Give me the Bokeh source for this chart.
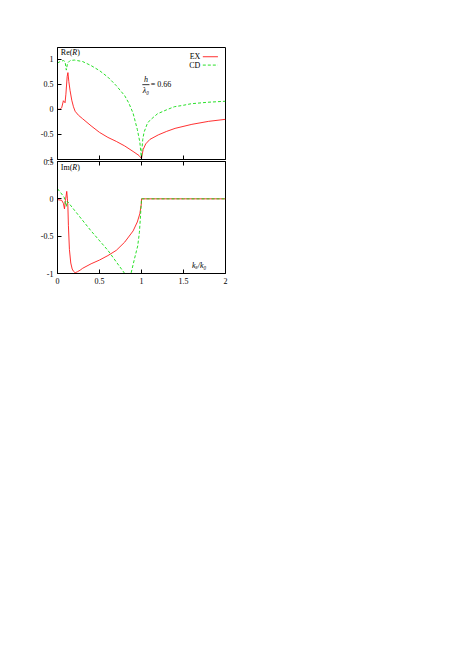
from bokeh.plotting import figure
from bokeh.layouts import column
from bokeh.models import (Range1d, FixedTicker, Label, Arrow, LinearAxis,
                          NumeralTickFormatter)
from bokeh.embed import file_html
from bokeh.resources import INLINE

# ---------------- data ----------------
x_ticks = [0, 0.5, 1, 1.5, 2]
x_tick_labels = ["0", "0.5", "1", "1.5", "2"]
re_ticks = [-1, -0.5, 0, 0.5, 1]
re_tick_labels = ["-1", "-0.5", "0", "0.5", "1"]
im_ticks = [-1, -0.5, 0, 0.5]
im_tick_labels = ["-1", "-0.5", "0", "0.5"]

ex_re_x = [0.0, 0.03, 0.05, 0.07, 0.09, 0.10, 0.115, 0.124, 0.135, 0.15, 0.17,
           0.19, 0.21, 0.25, 0.3, 0.4, 0.5, 0.6, 0.7, 0.8, 0.9, 0.97, 1.0,
           1.005, 1.02, 1.05, 1.1, 1.2, 1.3, 1.4, 1.6, 1.8, 2.0]
ex_re_y = [0.0, 0.0, 0.03, 0.17, 0.13, 0.30, 0.65, 0.73, 0.55, 0.37, 0.18,
           0.05, -0.04, -0.12, -0.19, -0.33, -0.46, -0.56, -0.64, -0.73, -0.84,
           -0.92, -0.98, -0.93, -0.80, -0.69, -0.60, -0.51, -0.44, -0.38,
           -0.30, -0.24, -0.20]

cd_re_x = [0.0, 0.03, 0.07, 0.09, 0.105, 0.12, 0.15, 0.2, 0.3, 0.4, 0.5, 0.6,
           0.7, 0.8, 0.85, 0.9, 0.95, 0.98, 1.0, 1.005, 1.015, 1.03, 1.07,
           1.1, 1.19, 1.3, 1.39, 1.5, 1.59, 1.79, 2.0]
cd_re_y = [0.92, 0.95, 0.97, 0.95, 0.78, 0.92, 0.97, 0.98, 0.95, 0.87, 0.77,
           0.64, 0.47, 0.27, 0.12, -0.08, -0.40, -0.65, -1.0, -0.80, -0.60,
           -0.46, -0.28, -0.22, -0.09, -0.01, 0.05, 0.08, 0.11, 0.14, 0.16]

ex_im_x = [0.0, 0.05, 0.07, 0.083, 0.095, 0.11, 0.118, 0.124, 0.13, 0.142,
           0.158, 0.175, 0.19, 0.21, 0.24, 0.27, 0.3, 0.4, 0.5, 0.6, 0.7,
           0.8, 0.9, 0.95, 0.98, 0.999, 1.0, 1.5, 2.0]
ex_im_y = [-0.01, -0.02, -0.06, -0.135, -0.02, 0.10, 0.0, -0.11, -0.36,
           -0.68, -0.86, -0.94, -0.97, -0.99, -0.975, -0.955, -0.93, -0.87,
           -0.82, -0.76, -0.69, -0.58, -0.43, -0.31, -0.20, -0.06, 0.0, 0.0,
           0.0]

cd_im_x = [0.0, 0.05, 0.08, 0.095, 0.105, 0.115, 0.2, 0.4, 0.6, 0.8, 0.875,
           0.915, 0.955, 0.975, 0.986, 1.0, 1.5, 2.0]
cd_im_y = [0.135, 0.065, 0.02, -0.08, -0.10, -0.03, -0.15, -0.43, -0.69,
           -1.0, -1.0, -0.81, -0.63, -0.45, -0.27, 0.0, 0.0, 0.0]

RED = "#ff1a1a"
GREEN = "#11dd11"
FONT = "Liberation Serif"
FS = "8px"


def style(p, yticks, ylabels):
    p.grid.visible = False
    p.outline_line_color = "black"
    p.outline_line_width = 1
    p.background_fill_color = "white"
    for ax in p.xaxis:
        ax.ticker = FixedTicker(ticks=x_ticks)
        ax.major_label_overrides = dict(zip(x_ticks, x_tick_labels))
        ax.formatter = NumeralTickFormatter(format="0.[0]")
    for ax in p.yaxis:
        ax.ticker = FixedTicker(ticks=yticks)
        ax.major_label_overrides = dict(zip(yticks, ylabels))
        ax.formatter = NumeralTickFormatter(format="0.[0]")
    for ax in p.axis:
        ax.major_tick_in = 4
        ax.major_tick_out = 0
        ax.minor_tick_line_color = None
        ax.axis_line_color = "black"
        ax.major_tick_line_color = "black"
        ax.major_label_text_font = FONT
        ax.major_label_text_font_size = FS
        ax.major_label_text_color = "black"
        ax.major_label_standoff = 4


def hide_labels(ax):
    ax.major_label_text_font_size = "0px"
    ax.major_label_text_color = None
    ax.major_label_text_alpha = 0
    ax.major_label_standoff = 0


def txt(p, x, y, t, italic=False, align="left", baseline="middle", size=FS):
    p.add_layout(Label(x=x, y=y, text=t, text_font=FONT, text_font_size=size,
                       text_font_style="italic" if italic else "normal",
                       text_align=align, text_baseline=baseline,
                       text_color="black"))


# ---------------- top panel: Re(R) ----------------
p1 = figure(width=236, height=168, output_backend="svg", toolbar_location=None,
            x_range=Range1d(0, 2), y_range=Range1d(-1, 1.23),
            min_border_left=57, min_border_right=11, min_border_top=47,
            min_border_bottom=9)
p1.border_fill_color = "white"
p1.line(ex_re_x, ex_re_y, line_color=RED, line_width=0.9)
p1.line(cd_re_x, cd_re_y, line_color=GREEN, line_width=0.9, line_dash="3 2")
style(p1, re_ticks, re_tick_labels)
hide_labels(p1.xaxis[0])

txt(p1, 0.04, 1.125, "Re(")
txt(p1, 0.177, 1.125, "R", italic=True)
txt(p1, 0.235, 1.125, ")")

# legend (gnuplot style: text then sample)
txt(p1, 1.70, 1.046, "EX", align="right")
txt(p1, 1.70, 0.88, "CD", align="right")
p1.add_layout(Arrow(end=None, x_start=1.73, y_start=1.046, x_end=1.91,
                    y_end=1.046, line_color=RED, line_width=0.9))
p1.add_layout(Arrow(end=None, x_start=1.73, y_start=0.88, x_end=1.91,
                    y_end=0.88, line_color=GREEN, line_width=0.9,
                    line_dash="3 2"))

# h / lambda0 = 0.66
txt(p1, 1.053, 0.51, "h", italic=True, align="center", baseline="bottom")
txt(p1, 1.053, 0.47, "λ₀", italic=True, align="center", baseline="top")
p1.add_layout(Arrow(end=None, x_start=1.01, y_start=0.49, x_end=1.095,
                    y_end=0.49, line_color="black", line_width=0.8))
txt(p1, 1.11, 0.49, "= 0.66")

# ---------------- bottom panel: Im(R) ----------------
p2 = figure(width=236, height=137, output_backend="svg", toolbar_location=None,
            x_range=Range1d(0, 2), y_range=Range1d(-1, 0.5),
            min_border_left=57, min_border_right=11, min_border_top=9,
            min_border_bottom=16)
p2.border_fill_alpha = 0
p2.margin = (-16, 0, 0, 0)
p2.line(ex_im_x, ex_im_y, line_color=RED, line_width=0.9)
p2.line(cd_im_x, cd_im_y, line_color=GREEN, line_width=0.9, line_dash="3 2")
top_ax = LinearAxis()
p2.add_layout(top_ax, "above")
style(p2, im_ticks, im_tick_labels)
hide_labels(top_ax)

txt(p2, 0.04, 0.42, "Im(")
txt(p2, 0.177, 0.42, "R", italic=True)
txt(p2, 0.235, 0.42, ")")
txt(p2, 1.6, -0.89, "kₓ/k₀", italic=True)

layout = column(p1, p2, spacing=0)
open("out.html", "w").write(file_html(layout, INLINE))
